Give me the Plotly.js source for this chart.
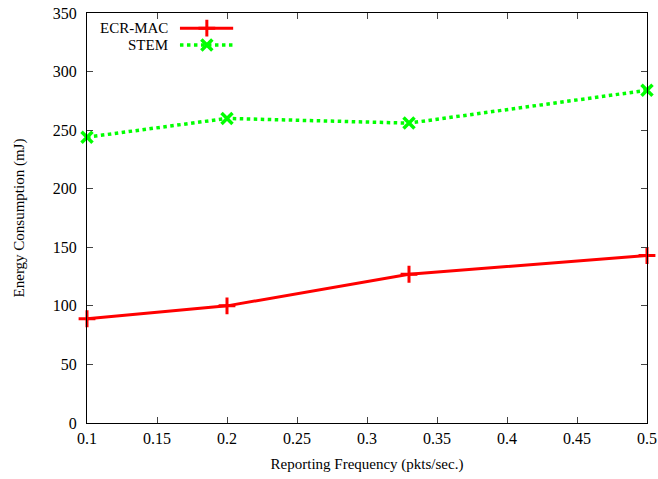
<!DOCTYPE html>
<html><head><meta charset="utf-8">
<script src="https://cdn.plot.ly/plotly-3.0.1.min.js"></script>
<style>body{margin:0;background:#fff}#chart{width:658px;height:479px}</style>
</head><body><div id="chart"></div>
<script>
const xFreq = [0.1, 0.2, 0.33, 0.5];
const ecrMac = [89, 100, 127, 143];
const stem = [244, 260, 256, 284];
const seriesNames = ["ECR-MAC", "STEM"];
const xTicks = [0.1, 0.15, 0.2, 0.25, 0.3, 0.35, 0.4, 0.45, 0.5];
const xTickText = ["0.1","0.15","0.2","0.25","0.3","0.35","0.4","0.45","0.5"];
const yTicks = [0, 50, 100, 150, 200, 250, 300, 350];

const fam = "Liberation Serif";
const mk = (s) => ({family: fam, size: s || 15, color: "#000"});
const red = "#ff0000", green = "#00ff00";

const traces = [
  {x: xFreq, y: ecrMac, name: seriesNames[0], mode: "lines+markers", cliponaxis: false,
   line: {color: red, width: 3}, marker: {symbol: "cross-thin", size: 12, line: {color: red, width: 3}, color: red}},
  {x: xFreq, y: stem, name: seriesNames[1], mode: "lines+markers", cliponaxis: false,
   line: {color: green, width: 3.5, dash: "dot"}, marker: {symbol: "x-thin", size: 11, line: {color: green, width: 3.5}, color: green}},
  {x: [0.166, 0.261], y: [0.963, 0.963], xaxis: "x2", yaxis: "y2", mode: "lines", line: {color: red, width: 3}, hoverinfo: "skip"},
  {x: [0.214], y: [0.963], xaxis: "x2", yaxis: "y2", mode: "markers", marker: {symbol: "cross-thin", size: 12, line: {color: red, width: 3}}, hoverinfo: "skip"},
  {x: [0.166, 0.261], y: [0.922, 0.922], xaxis: "x2", yaxis: "y2", mode: "lines", line: {color: green, width: 3.5, dash: "dot"}, hoverinfo: "skip"},
  {x: [0.214], y: [0.922], xaxis: "x2", yaxis: "y2", mode: "markers", marker: {symbol: "x-thin", size: 11, line: {color: green, width: 3.5}}, hoverinfo: "skip"}
];

const layout = {
  width: 658, height: 479,
  margin: {l: 87, r: 11, t: 13, b: 56},
  showlegend: false,
  paper_bgcolor: "#fff", plot_bgcolor: "#fff",
  font: mk(),
  xaxis: {range: [0.1, 0.5], tickvals: xTicks, ticktext: xTickText, ticks: "inside", ticklen: 6,
    mirror: "ticks", showline: true, linecolor: "#000", linewidth: 1, showgrid: false, zeroline: false,
    tickfont: mk(16), ticklabelstandoff: 1,
    title: {text: "Reporting Frequency (pkts/sec.)", font: mk(), standoff: 12}},
  yaxis: {range: [0, 350], tickvals: yTicks, ticks: "inside", ticklen: 6,
    mirror: "ticks", showline: true, linecolor: "#000", linewidth: 1, showgrid: false, zeroline: false,
    tickfont: mk(16), ticklabelstandoff: 6,
    title: {text: "Energy Consumption (mJ)", font: mk(), standoff: 24}},
  xaxis2: {range: [0, 1], overlaying: "x", visible: false, fixedrange: true},
  yaxis2: {range: [0, 1], overlaying: "y", visible: false, fixedrange: true},
  annotations: [
    {xref: "paper", yref: "paper", x: 0.148, y: 0.963, xanchor: "right", yanchor: "middle", text: seriesNames[0], showarrow: false, font: mk()},
    {xref: "paper", yref: "paper", x: 0.148, y: 0.922, xanchor: "right", yanchor: "middle", text: seriesNames[1], showarrow: false, font: mk()}
  ]
};
Plotly.newPlot("chart", traces, layout, {staticPlot: true});
</script></body></html>
